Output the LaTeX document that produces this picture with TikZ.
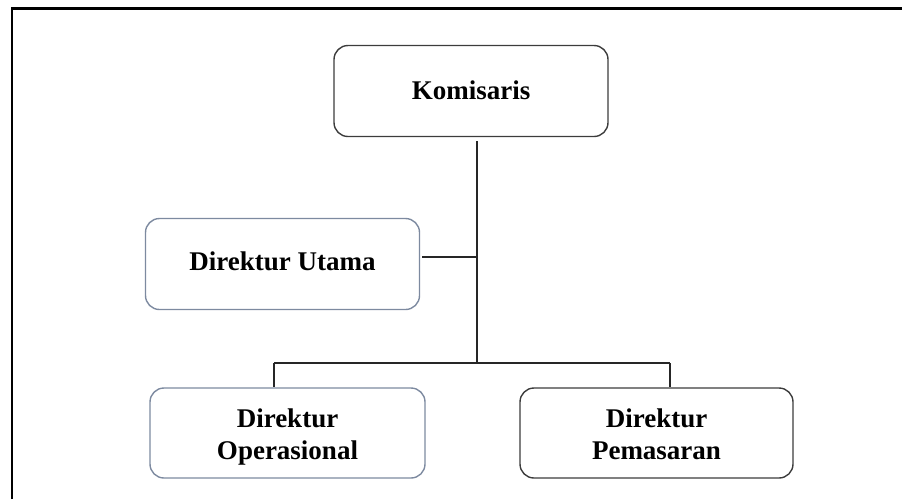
\documentclass[tikz,border=0pt]{standalone}
\usepackage{fontspec}
\setmainfont{Liberation Serif}
\definecolor{darkedge}{HTML}{3C3C3C}
\definecolor{blueedge}{HTML}{7D8AA0}
\newcommand{\toprule}[1]{\rule{0pt}{#1}}
\begin{document}
\begin{tikzpicture}[x=1pt,y=-1pt,
  orgbox/.style={draw=darkedge, line width=1.4pt, rounded corners=14pt,
    minimum width=274pt, minimum height=91pt, inner sep=0pt, align=center,
    font=\fontsize{27}{32}\selectfont\bfseries},
  bluebox/.style={orgbox, draw=blueedge},
  conn/.style={draw=black!85, line width=1.3pt},
  frameline/.style={draw=black, line width=2.6pt}]
\useasboundingbox (0,0) rectangle (902,499);
\draw[frameline] (12,499) -- (12,8.5) -- (903,8.5);
\node[orgbox] (k) at (471,91) {\toprule{27pt}\strut Komisaris};
\node[bluebox] (u) at (282.5,264) {\strut Direktur Utama};
\node[bluebox, minimum width=275pt, minimum height=90pt] (o) at (287.5,433) {\toprule{30pt}\strut Direktur\\\strut Operasional};
\node[orgbox, minimum width=273pt, minimum height=90pt] (p) at (656.5,433) {\toprule{30pt}\strut Direktur\\\strut Pemasaran};
\coordinate (j) at (477,363);
\coordinate (l) at (274,363);
\coordinate (r) at (670,363);
\draw[conn] ([yshift=-4pt]k.south -| j) -- (j);
\draw[conn] ([yshift=7pt,xshift=2pt]u.east) -- ([yshift=7pt]u.east -| j);
\draw[conn] (l) -- (r);
\draw[conn] (l) -- (l |- o.north);
\draw[conn] (r) -- (r |- p.north);
\end{tikzpicture}
\end{document}
